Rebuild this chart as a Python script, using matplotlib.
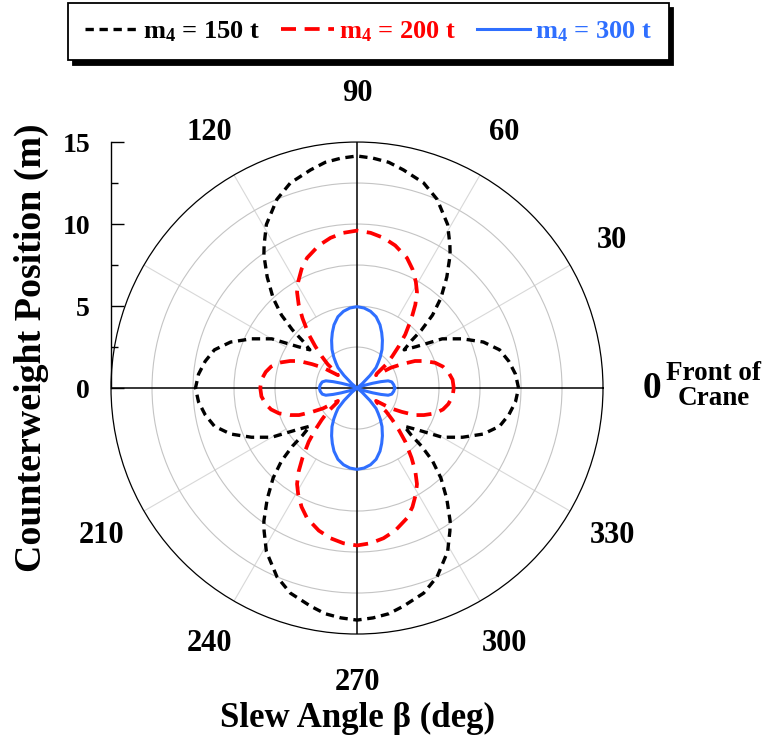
import numpy as np
import matplotlib.pyplot as plt

plt.rcParams['font.family'] = ['Liberation Serif', 'DejaVu Serif']
plt.rcParams['font.weight'] = 'bold'
plt.rcParams['mathtext.fontset'] = 'custom'
plt.rcParams['mathtext.rm'] = 'Liberation Serif:bold'
plt.rcParams['mathtext.bf'] = 'Liberation Serif:bold'
plt.rcParams['mathtext.it'] = 'Liberation Serif:bold'

# counterweight position (m) vs slew angle, first quadrant (deg)
beta_150 = [0, 5, 10, 15, 20, 25, 30, 35, 39, 41, 42, 44, 47, 51, 55, 57, 61, 67, 72, 78, 82, 86, 90]
r_150 = [9.85, 9.7, 9.4, 9.0, 8.2, 7.1, 6.0, 4.4, 3.7, 4.4, 5.3, 6.4, 7.5, 8.7, 9.9, 10.4, 11.4, 12.5, 13.15, 13.6, 13.9, 14.05, 14.15]

beta_200 = [0, 5, 10, 14, 18, 22, 25, 28, 31, 34, 36, 39, 42, 45, 48, 52, 55, 58, 61, 65, 69, 75, 80, 85, 90]
r_200 = [5.9, 5.85, 5.65, 5.4, 5.0, 4.4, 3.9, 3.1, 2.4, 1.4, 1.5, 2.3, 2.9, 3.6, 4.4, 5.4, 6.2, 6.9, 7.4, 8.0, 8.5, 9.0, 9.3, 9.5, 9.6]

beta_300 = [0, 5, 10, 13, 15, 17, 19, 22, 28, 35, 40, 44, 47, 50, 53, 57, 62, 66, 70, 75, 80, 85, 90]
r_300 = [2.3, 2.25, 2.15, 1.95, 1.5, 1.0, 0.6, 0.3, 0.1, 0.05, 0.4, 1.1, 1.7, 2.0, 2.35, 2.8, 3.3, 3.7, 4.1, 4.5, 4.75, 4.9, 4.96]

theta_ticks = [0, 30, 60, 90, 120, 150, 180, 210, 240, 270, 300, 330]
theta_labels = ['0', '30', '60', '90', '120', '', '', '210', '240', '270', '300', '330']


# the response is symmetric about both crane axes, so unfold one quadrant
def full_circle(beta, r):
    beta = np.array(beta, dtype=float)
    r = np.array(r, dtype=float)
    b = np.concatenate([beta, 180 - beta[::-1][1:], 180 + beta[1:], 360 - beta[::-1][1:]])
    rr = np.concatenate([r, r[::-1][1:], r[1:], r[::-1][1:]])
    return np.deg2rad(b), rr


fig = plt.figure(figsize=(7.63, 7.46), dpi=100)
rect = [0.1455, 0.1501, 0.6448, 0.6595]
ax = fig.add_axes(rect, projection='polar')
ax.set_ylim(0, 15)
ax.set_yticks([2.5, 5, 7.5, 10, 12.5])
ax.set_yticklabels([])
ax.yaxis.grid(True, color='#c4c4c4', lw=0.8)
ax.xaxis.grid(False)
ax.spines['polar'].set_linewidth(0.9)

ax.set_xticks(np.deg2rad(theta_ticks))
labs = ax.set_xticklabels(theta_labels)
ax.tick_params(axis='x', labelsize=22, pad=28, length=0)
labs[0].set_fontsize(27)

# light radial lines, and the black crane axes
for t in [30, 60, 120, 150, 210, 240, 300, 330]:
    ax.plot(np.deg2rad([t, t]), [5, 15], color='#d8d8d8', lw=0.8, zorder=1)
for t in [0, 90, 180, 270]:
    ax.plot(np.deg2rad([t, t]), [0, 15], color='black', lw=1.1, zorder=2)

th, rr = full_circle(beta_150, r_150)
ax.plot(th, rr, color='black', lw=2.4, ls=(0, (2.5, 1.7)), label=r'm$_{4}$ = 150 t', zorder=3)
th, rr = full_circle(beta_200, r_200)
ax.plot(th, rr, color='#ff0000', lw=2.7, ls=(0, (4.0, 2.3)), label=r'm$_{4}$ = 200 t', zorder=4)
th, rr = full_circle(beta_300, r_300)
ax.plot(th, rr, color='#2f6fff', lw=2.2, label=r'm$_{4}$ = 300 t', zorder=5)

# cartesian overlay just for the radial scale on the left
ax2 = fig.add_axes(rect, facecolor='none')
ax2.set_xlim(-15, 15)
ax2.set_ylim(-15, 15)
for s in ['top', 'right', 'bottom']:
    ax2.spines[s].set_visible(False)
ax2.spines['left'].set_bounds(0, 15)
ax2.spines['left'].set_linewidth(1.0)
ax2.set_xticks([])
ax2.set_yticks([0, 5, 10, 15])
ax2.set_yticks([2.5, 7.5, 12.5], minor=True)
ax2.tick_params(axis='y', which='major', direction='in', length=9, width=1.0, labelsize=20, pad=15)
ax2.tick_params(axis='y', which='minor', direction='in', length=5, width=1.0)

fig.text(31 / 763, 1 - 348 / 746, 'Counterweight Position (m)', rotation=90,
         ha='center', va='center', fontsize=27.3)
fig.text(357 / 763, 1 - 718 / 746, 'Slew Angle β (deg)', ha='center', va='center', fontsize=25.1)
fig.text(714 / 763, 1 - 386 / 746, 'Front of\nCrane', ha='center', va='center',
         fontsize=19.5, linespacing=0.95)

leg = fig.legend(loc='upper center', bbox_to_anchor=(368.5 / 763, 1 - 3 / 746), ncol=3,
                 fontsize=19, frameon=True, fancybox=False, edgecolor='black',
                 shadow={'ox': 3.5, 'oy': -3.5, 'color': 'black', 'alpha': 1},
                 handlelength=2.0, handletextpad=0.2, columnspacing=0.8,
                 labelcolor='linecolor', borderpad=0.62, borderaxespad=0)
leg.get_frame().set_linewidth(1.3)

fig.savefig('out.png', dpi=100)
